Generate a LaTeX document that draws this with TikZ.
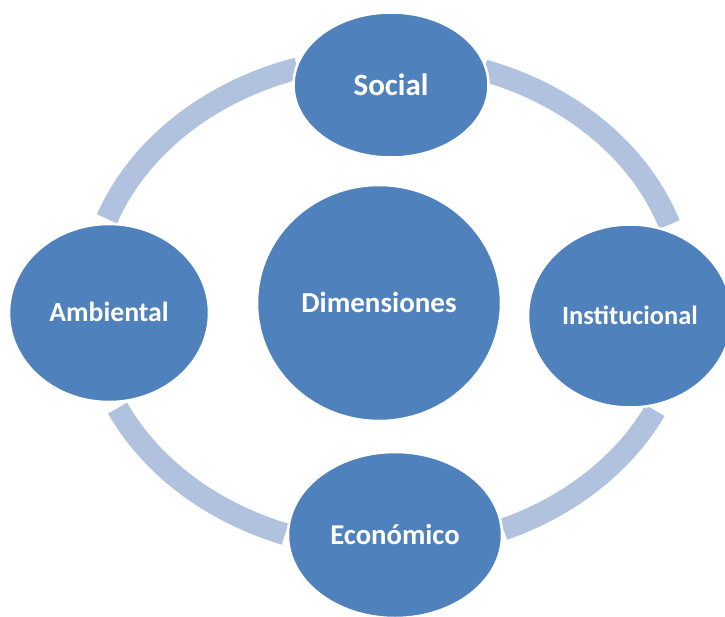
\documentclass[tikz,border=0pt]{standalone}
\usepackage{fontspec}
\setmainfont{Carlito}
\usetikzlibrary{shapes.geometric}
\definecolor{nodeblue}{RGB}{79,129,189}
\definecolor{ringblue}{RGB}{176,194,221}
\begin{document}
\begin{tikzpicture}[x=1pt,y=-1pt,
  bubble/.style={ellipse, fill=nodeblue, draw=white, line width=2.5pt, inner sep=0pt,
    text=white, text depth=0pt,
    font=\fontsize{#1}{#1}\selectfont\bfseries},
  ringarc/.style={draw=ringblue, line width=22pt, line cap=butt, line join=round}]
\useasboundingbox (0,0) rectangle (725,616);
\clip (0,0) rectangle (725,616);
% ring segments (ellipse centre 387,303; radii 298 x 246)
\draw[ringarc] plot[domain=107.5:160, samples=60] ({387+298*cos(\x)},{303-246*sin(\x)});
\draw[ringarc] plot[domain=18.6:71, samples=60] ({387+298*cos(\x)},{303-246*sin(\x)});
\draw[ringarc] plot[domain=-67:-25.9, samples=60] ({387+298*cos(\x)},{303-246*sin(\x)});
\draw[ringarc] plot[domain=205.3:250, samples=60] ({387+298*cos(\x)},{303-246*sin(\x)});
% nodes
\node[bubble=29, text height=18.7pt, minimum width=244pt, minimum height=236pt] (dim) at (379,303) {Dimensiones};
\node[bubble=31, text height=20pt, minimum width=195pt, minimum height=145pt] (soc) at (391,85) {Social};
\node[bubble=27.7, text height=17.8pt, minimum width=200pt, minimum height=178pt] (amb) at (109,313) {Ambiental};
\node[bubble=26.4, text height=17pt, minimum width=204pt, minimum height=183pt] (ins) at (630,316) {Institucional};
\node[bubble=28.7, text height=18.5pt, minimum width=214pt, minimum height=166pt] (eco) at (395,535) {Económico};
\end{tikzpicture}
\end{document}
